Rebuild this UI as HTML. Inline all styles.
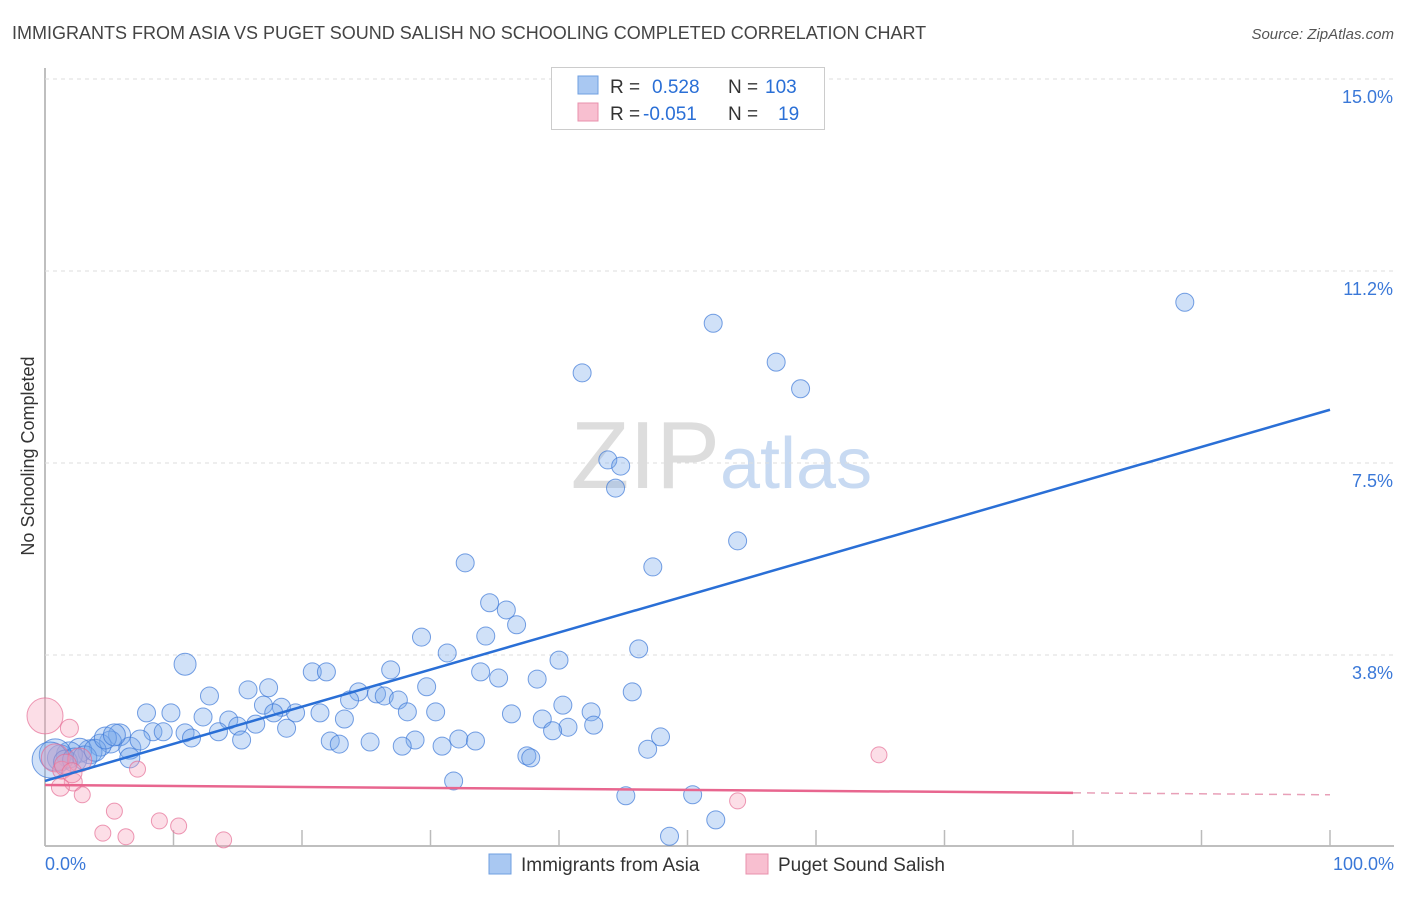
<!DOCTYPE html>
<html><head><meta charset="utf-8"><style>
body{margin:0;background:#fff;font-family:"Liberation Sans",sans-serif}
svg text{font-family:"Liberation Sans",sans-serif}
</style></head><body>
<svg id="chart" width="1406" height="892">
<text x="12" y="39" font-size="18" fill="#444">IMMIGRANTS FROM ASIA VS PUGET SOUND SALISH NO SCHOOLING COMPLETED CORRELATION CHART</text>
<text x="1394" y="39" font-size="15" fill="#555" font-style="italic" text-anchor="end">Source: ZipAtlas.com</text>
<text x="0" y="0" transform="translate(34,456) rotate(-90)" font-size="18" fill="#333" text-anchor="middle">No Schooling Completed</text>
<text x="720" y="488" font-size="96" fill="#ddd" text-anchor="end" font-family="Liberation Serif">ZIP</text>
<text x="720" y="488" font-size="72" fill="#c8daf2">atlas</text>
<g id="grid"></g><g id="marks"></g>
</svg>
<script>
const yTicks=[3.8,7.5,11.2,15.0];
const yTickVals=[3.75,7.5,11.25,15];
const xTickLabels=["0.0%","100.0%"];
const blueX=[88.7,52.0,41.8,56.9,58.8,43.8,44.8,44.4,53.9,32.7,47.3,34.6,35.9,36.7,29.3,34.3,31.3,46.2,10.9,40.0,20.8,21.9,26.9,33.9,35.3,29.7,38.3,12.8,15.8,17.4,24.4,25.8,26.4,23.7,27.5,45.7,40.3,42.5,17.0,18.4,7.9,9.8,12.3,17.8,19.5,21.4,28.2,30.4,36.3,38.7,23.3,14.3,15.0,16.4,8.4,9.2,10.9,11.4,13.5,18.8,40.7,42.7,39.5,15.3,22.2,22.9,25.3,28.8,32.2,33.5,27.8,30.9,47.9,46.9,37.5,37.8,31.8,45.2,50.4,52.2,48.6,5.8,5.1,4.3,6.6,3.5,2.7,1.9,1.2,0.8,0.4,1.6,2.3,3.1,3.9,4.7,5.4,7.4,6.6];
const blueY=[10.64,10.23,9.26,9.47,8.95,7.56,7.44,7.01,5.98,5.55,5.47,4.77,4.63,4.34,4.10,4.12,3.79,3.87,3.57,3.65,3.42,3.42,3.46,3.42,3.30,3.13,3.28,2.95,3.07,3.11,3.03,2.99,2.95,2.87,2.87,3.03,2.77,2.64,2.77,2.73,2.62,2.62,2.54,2.62,2.62,2.62,2.64,2.64,2.60,2.50,2.50,2.48,2.36,2.40,2.25,2.25,2.23,2.13,2.25,2.32,2.34,2.38,2.27,2.09,2.07,2.01,2.05,2.09,2.11,2.07,1.97,1.97,2.15,1.91,1.78,1.74,1.29,1.00,1.02,0.53,0.21,2.19,2.05,1.99,1.93,1.86,1.89,1.80,1.74,1.80,1.70,1.66,1.70,1.74,1.89,2.13,2.19,2.09,1.74];
const blueR=[9,9,9,9,9,9,9,9,9,9,9,9,9,9,9,9,9,9,11,9,9,9,9,9,9,9,9,9,9,9,9,9,9,9,9,9,9,9,9,9,9,9,9,9,9,9,9,9,9,9,9,9,9,9,9,9,9,9,9,9,9,9,9,9,9,9,9,9,9,9,9,9,9,9,9,9,9,9,9,9,9,11,11,11,11,12,12,13,13,16,18,12,12,12,11,11,11,10,10];
const pinkX=[0,1.9,0.8,1.3,2.2,1.2,2.9,7.2,5.4,4.5,6.3,8.9,10.4,13.9,64.9,53.9,2.7,1.6,2.1];
const pinkY=[2.56,2.32,1.74,1.50,1.27,1.17,1.02,1.52,0.70,0.27,0.20,0.51,0.41,0.14,1.80,0.90,1.70,1.60,1.45];
const pinkR=[18,9,14,9,9,9,8,8,8,8,8,8,8,8,8,8,12,11,10];
const blueTrend=[1.29,8.54];
const pinkTrend=[1.21,1.02];
const L=45,R=1330,B=847,PX=51.2;
const sx=v=>L+(R-L)*v/100, sy=v=>B-v*PX;
const NS="http://www.w3.org/2000/svg";
function mk(t,a,parent){const e=document.createElementNS(NS,t);for(const k in a)e.setAttribute(k,a[k]);document.getElementById(parent).appendChild(e);return e;}
// axes
let e=mk('line',{x1:L,y1:68,x2:L,y2:846,stroke:'#aaa','stroke-width':1.5},'grid');


e=mk('line',{x1:L,y1:846,x2:1394,y2:846,stroke:'#aaa','stroke-width':1.5},'grid');


for(let i=0;i<=10;i++){const x=sx(i*10);
 e=mk('line',{x1:x,y1:830,x2:x,y2:846,stroke:'#bbb','stroke-width':1.5},'grid');
 
 }
yTickVals.forEach((v,i)=>{const y=sy(v);
 e=mk('line',{x1:L,y1:y,x2:1394,y2:y,stroke:'#ddd','stroke-dasharray':'4,4'},'grid');
 
 
 e=mk('text',{x:1393,y:y+24,'font-size':18,fill:'#3a78d8','text-anchor':'end'},'grid');e.textContent=yTicks[i].toFixed(1)+'%';
 
 });
e=mk('text',{x:45,y:870,'font-size':18,fill:'#3a78d8'},'grid');e.textContent=xTickLabels[0];


e=mk('text',{x:1394,y:870,'font-size':18,fill:'#3a78d8','text-anchor':'end'},'grid');e.textContent=xTickLabels[1];


// points
blueX.forEach((x,i)=>{e=mk('circle',{cx:sx(x),cy:sy(blueY[i]),r:blueR[i],fill:'rgba(120,170,235,0.35)',stroke:'rgba(60,120,215,0.7)','stroke-width':1},'marks');
 
 });
pinkX.forEach((x,i)=>{e=mk('circle',{cx:sx(x),cy:sy(pinkY[i]),r:pinkR[i],fill:'rgba(245,160,185,0.35)',stroke:'rgba(230,110,150,0.7)','stroke-width':1},'marks');
 
 });
// trends
e=mk('line',{x1:sx(0),y1:sy(blueTrend[0]),x2:sx(100),y2:sy(blueTrend[1]),stroke:'#2a6fd6','stroke-width':2.5},'marks');


const pAt=v=>pinkTrend[0]+(pinkTrend[1]-pinkTrend[0])*v/100;
e=mk('line',{x1:sx(0),y1:sy(pAt(0)),x2:sx(80),y2:sy(pAt(80)),stroke:'#e8668f','stroke-width':2.5},'marks');


e=mk('line',{x1:sx(80),y1:sy(pAt(80)),x2:sx(100),y2:sy(pAt(100)),stroke:'#e8a0b8','stroke-width':1.5,'stroke-dasharray':'8,6'},'marks');


</script>
<svg style="position:absolute;left:0;top:0" width="1406" height="892">
<g>
<rect x="551.5" y="67.5" width="273" height="62" fill="#fff" stroke="#ccc"/>
<rect x="578" y="76" width="20" height="18" fill="#a9c8f2" stroke="#6f9fe0"/>
<rect x="578" y="103" width="20" height="18" fill="#f8bfd0" stroke="#e891ad"/>
<text y="93" font-size="19" fill="#333"><tspan x="610">R =</tspan><tspan x="652" fill="#2a6fd6">0.528</tspan><tspan x="728">N =</tspan><tspan x="765" fill="#2a6fd6">103</tspan></text>
<text y="120" font-size="19" fill="#333"><tspan x="610">R =</tspan><tspan x="643" fill="#2a6fd6">-0.051</tspan><tspan x="728">N =</tspan><tspan x="778" fill="#2a6fd6">19</tspan></text>
</g>
<g>
<rect x="489" y="854" width="22" height="20" fill="#a9c8f2" stroke="#6f9fe0"/>
<text x="521" y="871" font-size="19" fill="#333">Immigrants from Asia</text>
<rect x="746" y="854" width="22" height="20" fill="#f8bfd0" stroke="#e891ad"/>
<text x="778" y="871" font-size="19" fill="#333">Puget Sound Salish</text>
</g>
</svg>
</body></html>
